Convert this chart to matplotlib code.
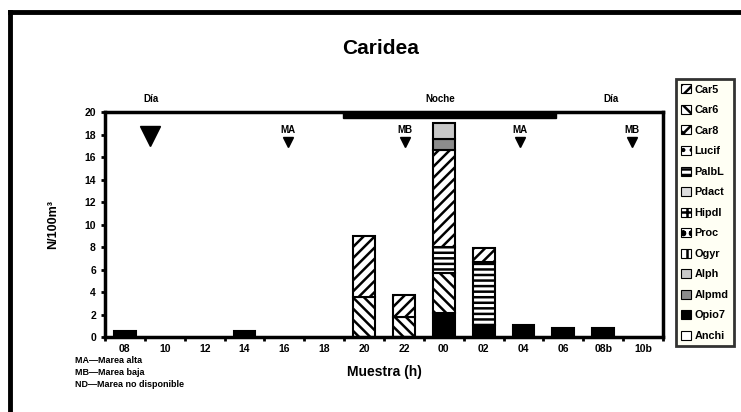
import numpy as np
import matplotlib.pyplot as plt
from matplotlib.patches import Rectangle, Patch
from matplotlib.lines import Line2D

plt.rcParams['font.family'] = ['Liberation Sans Narrow', 'Liberation Sans', 'DejaVu Sans']
plt.rcParams['font.weight'] = 'bold'
plt.rcParams['hatch.linewidth'] = 1.8

# muestras cada 2 h
muestras = ["08", "10", "12", "14", "16", "18", "20", "22", "00", "02", "04", "06", "08b", "10b"]

# abundancia por taxón (N/100m³)
car5 = [0, 0, 0, 0, 0, 0, 5.4, 1.9, 8.6, 1.2, 0, 0, 0, 0]
car6 = [0, 0, 0, 0, 0, 0, 3.6, 1.8, 3.6, 0, 0, 0, 0, 0]
car8 = [0] * 14
lucif = [0] * 14
palbl = [0, 0, 0, 0, 0, 0, 0, 0, 2.3, 5.6, 0, 0, 0, 0]
pdact = [0] * 14
hipdl = [0] * 14
proc = [0] * 14
ogyr = [0] * 14
alph = [0, 0, 0, 0, 0, 0, 0, 0, 1.4, 0, 0, 0, 0, 0]
alpmd = [0, 0, 0, 0, 0, 0, 0, 0, 1.0, 0, 0, 0, 0, 0]
opio7 = [0.5, 0, 0, 0.5, 0, 0, 0, 0, 2.1, 1.1, 1.1, 0.8, 0.8, 0]
anchi = [0] * 14

# mareas
marea_pos = [0.63, 4.09, 7.03, 9.91, 12.72]
marea_txt = ["", "MA", "MB", "MA", "MB"]

# nombre, datos, relleno, trama
taxones = [
    ("Car5", car5, "white", "///"),
    ("Car6", car6, "white", "\\\\\\"),
    ("Car8", car8, "white", "xx"),
    ("Lucif", lucif, "white", ".."),
    ("PalbL", palbl, "white", "---"),
    ("Pdact", pdact, "#dddddd", ""),
    ("Hipdl", hipdl, "white", "++"),
    ("Proc", proc, "white", "oo"),
    ("Ogyr", ogyr, "white", "||"),
    ("Alph", alph, "#c8c8c8", ""),
    ("Alpmd", alpmd, "#8c8c8c", ""),
    ("Opio7", opio7, "black", ""),
    ("Anchi", anchi, "white", ""),
]
# orden de apilado (de abajo arriba)
orden = ["Opio7", "Car6", "PalbL", "Car5", "Alpmd", "Alph",
         "Car8", "Lucif", "Pdact", "Hipdl", "Proc", "Ogyr", "Anchi"]

fig = plt.figure(figsize=(7.41, 4.12), dpi=100)
ax = fig.add_axes([0.1417, 0.182, 0.753, 0.546])

x = np.arange(len(muestras))
base = np.zeros(len(muestras))
estilo = {t[0]: t for t in taxones}
for nombre in orden:
    _, vals, fc, hatch = estilo[nombre]
    vals = np.array(vals, dtype=float)
    hay = vals > 0
    if hay.any():
        ax.bar(x[hay], vals[hay], bottom=base[hay], width=0.55, color=fc,
               edgecolor="black", hatch=hatch, linewidth=1.5)
    base += vals

ax.set_xlim(-0.5, len(muestras) - 0.5)
ax.set_ylim(0, 20)
ax.set_yticks(np.arange(0, 21, 2))
ax.set_xticks(x)
ax.set_xticklabels(muestras)
ax.set_xticks(np.arange(-0.5, len(muestras)), minor=True)
ax.tick_params(axis="x", which="major", length=0, labelsize=7.5, pad=5)
ax.tick_params(axis="x", which="minor", length=3, width=2, direction="out")
ax.tick_params(axis="y", length=3, width=2, direction="out", labelsize=7.5)
for s in ax.spines.values():
    s.set_linewidth(2.5)

ax.set_xlabel("Muestra (h)", fontsize=10, fontweight="bold", labelpad=8)
ax.set_ylabel("N/100m³", fontsize=9, fontweight="bold", labelpad=18)

# barra de noche
ax.add_patch(Rectangle((5.47, 19.5), 10.81 - 5.47, 0.5, color="black",
                       clip_on=False, zorder=5))
ax.text(0.65, 20.75, "Día", ha="center", va="bottom", fontsize=7, fontweight="bold")
ax.text(7.9, 20.75, "Noche", ha="center", va="bottom", fontsize=7, fontweight="bold")
ax.text(12.2, 20.75, "Día", ha="center", va="bottom", fontsize=7, fontweight="bold")

# mareas
for p, t in zip(marea_pos, marea_txt):
    if t:
        ax.plot(p, 17.3, marker="v", color="black", markersize=7, clip_on=False)
        ax.text(p, 18.0, t, ha="center", va="bottom", fontsize=7, fontweight="bold")
    else:
        ax.plot(p, 17.9, marker="v", color="black", markersize=14, clip_on=False)

fig.text(0.513, 0.883, "Caridea", ha="center", va="center", fontsize=15)

notas = ["MA—Marea alta", "MB—Marea baja", "ND—Marea no disponible"]
for k, n in enumerate(notas):
    fig.text(0.101, 0.124 - k * 0.029, n, fontsize=6.5, fontweight="bold", va="center")

handles = [Patch(facecolor=fc, edgecolor="black", hatch=h, linewidth=0.8)
           for _, _, fc, h in taxones]
leg = fig.legend(handles, [t[0] for t in taxones], loc="upper left",
                 bbox_to_anchor=(676 / 741, 1 - 79 / 412),
                 handlelength=0.9, handleheight=0.9, handletextpad=0.3,
                 labelspacing=0.95, borderpad=0.5, fancybox=False,
                 borderaxespad=0, prop={"weight": "bold", "size": 7.8})
leg.get_frame().set_edgecolor("black")
leg.get_frame().set_linewidth(2)
leg.get_frame().set_facecolor("#fffff2")

# marco general
fig.add_artist(Line2D([10 / 741, 1.0], [1 - 12 / 412] * 2, color="black", lw=3.5,
                      transform=fig.transFigure))
fig.add_artist(Line2D([10 / 741] * 2, [1 - 12 / 412, 0.0], color="black", lw=3.5,
                      transform=fig.transFigure))

fig.savefig("out.png", dpi=100)
